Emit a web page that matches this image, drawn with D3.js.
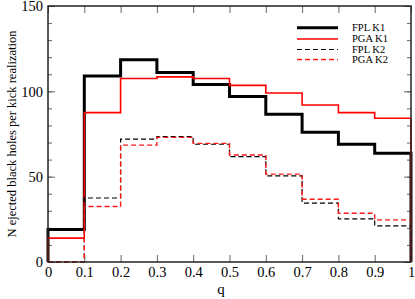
<!DOCTYPE html>
<html>
<head>
<meta charset="utf-8">
<script src="https://cdn.jsdelivr.net/npm/d3@7"></script>
<style>
  body { margin: 0; background: #fff; }
  svg { display: block; font-family: "Liberation Serif", "DejaVu Serif", serif; }
</style>
</head>
<body>
<svg id="chart" width="415" height="299"></svg>
<script>
// bin edges in q, one value per bin
var binEdges = [0, 0.1, 0.2, 0.3, 0.4, 0.5, 0.6, 0.7, 0.8, 0.9, 1.0];
var fplK1 = [19, 109, 118.5, 111, 104, 97, 86.5, 76, 69, 63.7];
var pgaK1 = [14, 87.5, 107.5, 108.5, 107.5, 103.5, 99, 92, 87.5, 84.2];
var fplK2 = [0, 37.5, 72, 73.5, 69, 61.7, 50.5, 34.5, 25.3, 21.2];
var pgaK2 = [0, 32.5, 68.5, 73, 69.5, 62.7, 51.5, 36.8, 28.6, 24.7];
var seriesNames = ["FPL K1", "PGA K1", "FPL K2", "PGA K2"];

var xTickValues = [0, 0.1, 0.2, 0.3, 0.4, 0.5, 0.6, 0.7, 0.8, 0.9, 1];
var yTickValues = [0, 50, 100, 150];
var yMinorValues = d3.range(0, 151, 10);

var svg = d3.select("#chart");
var plotLeft = 48, plotRight = 411, plotTop = 6, plotBottom = 262;

var x = d3.scaleLinear().domain([0, 1]).range([plotLeft, plotRight]);
var y = d3.scaleLinear().domain([0, 150]).range([plotBottom, plotTop]);

var styles = [
  { color: "#000", width: 3, dash: null },
  { color: "#ff0000", width: 1.6, dash: null },
  { color: "#000", width: 1.2, dash: "5,3" },
  { color: "#ff1a1a", width: 1.4, dash: "5,3" }
];

// ticks, pointing inward
var tickColor = "#666";
function fmt(d) { return String(+d.toFixed(1)); }

var gBottom = svg.append("g").attr("transform", `translate(0,${plotBottom})`)
    .call(d3.axisBottom(x).tickValues(xTickValues).tickSizeInner(-7).tickSizeOuter(0).tickPadding(8).tickFormat(fmt));
var gTop = svg.append("g").attr("transform", `translate(0,${plotTop})`)
    .call(d3.axisTop(x).tickValues(xTickValues).tickSizeInner(-7).tickSizeOuter(0).tickFormat(""));
var gLeftMinor = svg.append("g").attr("transform", `translate(${plotLeft},0)`)
    .call(d3.axisLeft(y).tickValues(yMinorValues).tickSizeInner(-4).tickSizeOuter(0).tickFormat(""));
var gLeft = svg.append("g").attr("transform", `translate(${plotLeft},0)`)
    .call(d3.axisLeft(y).tickValues(yTickValues).tickSizeInner(-7).tickSizeOuter(0).tickPadding(5).tickFormat(fmt));
var gRightMinor = svg.append("g").attr("transform", `translate(${plotRight},0)`)
    .call(d3.axisRight(y).tickValues(yMinorValues).tickSizeInner(-4).tickSizeOuter(0).tickFormat(""));
var gRight = svg.append("g").attr("transform", `translate(${plotRight},0)`)
    .call(d3.axisRight(y).tickValues(yTickValues).tickSizeInner(-7).tickSizeOuter(0).tickFormat(""));

[gBottom, gTop, gLeftMinor, gLeft, gRightMinor, gRight].forEach(function(g) {
  g.select(".domain").remove();
  g.selectAll(".tick line").attr("stroke", tickColor).attr("stroke-width", 1);
  g.selectAll("text").attr("fill", "#000").style("font-family", "'Liberation Serif', serif").style("font-size", "14.5px");
});
gBottom.selectAll("text").attr("dy", "0.5em");
gLeft.selectAll("text").attr("dy", "0.34em");

// histograms as closed step outlines
var line = d3.line().x(d => x(d[0])).y(d => y(d[1]));
function steps(vals) {
  var pts = [[binEdges[0], 0]];
  vals.forEach(function(v, i) {
    pts.push([binEdges[i], v]);
    pts.push([binEdges[i + 1], v]);
  });
  pts.push([binEdges[binEdges.length - 1], 0]);
  return pts;
}

var series = [fplK1, pgaK1, fplK2, pgaK2];
svg.append("g").selectAll("path")
  .data(series)
  .join("path")
  .attr("d", d => line(steps(d)))
  .attr("fill", "none")
  .attr("stroke", (d, i) => styles[i].color)
  .attr("stroke-width", (d, i) => styles[i].width)
  .attr("stroke-dasharray", (d, i) => styles[i].dash);

// frame
svg.append("rect")
  .attr("x", plotLeft).attr("y", plotTop)
  .attr("width", plotRight - plotLeft).attr("height", plotBottom - plotTop)
  .attr("fill", "none").attr("stroke", "#222").attr("stroke-width", 1.5);

// legend
var legend = svg.append("g").selectAll("g")
  .data(seriesNames)
  .join("g")
  .attr("transform", (d, i) => `translate(297,${[27.7, 39, 49.5, 59.5][i]})`);
legend.append("line")
  .attr("x1", 0).attr("x2", 41)
  .attr("stroke", (d, i) => styles[i].color)
  .attr("stroke-width", (d, i) => styles[i].width)
  .attr("stroke-dasharray", (d, i) => styles[i].dash);
legend.append("text")
  .attr("x", 55).attr("dy", "0.33em")
  .style("font-size", "10.5px")
  .text(d => d);

// axis titles
svg.append("text")
  .attr("x", 221).attr("y", 294)
  .attr("text-anchor", "middle")
  .style("font-size", "15px")
  .text("q");
svg.append("text")
  .attr("transform", "translate(12,134) rotate(-90)")
  .attr("text-anchor", "middle")
  .attr("dy", "0.35em")
  .style("font-size", "12.5px")
  .text("N ejected black holes per kick realization");
</script>
</body>
</html>
